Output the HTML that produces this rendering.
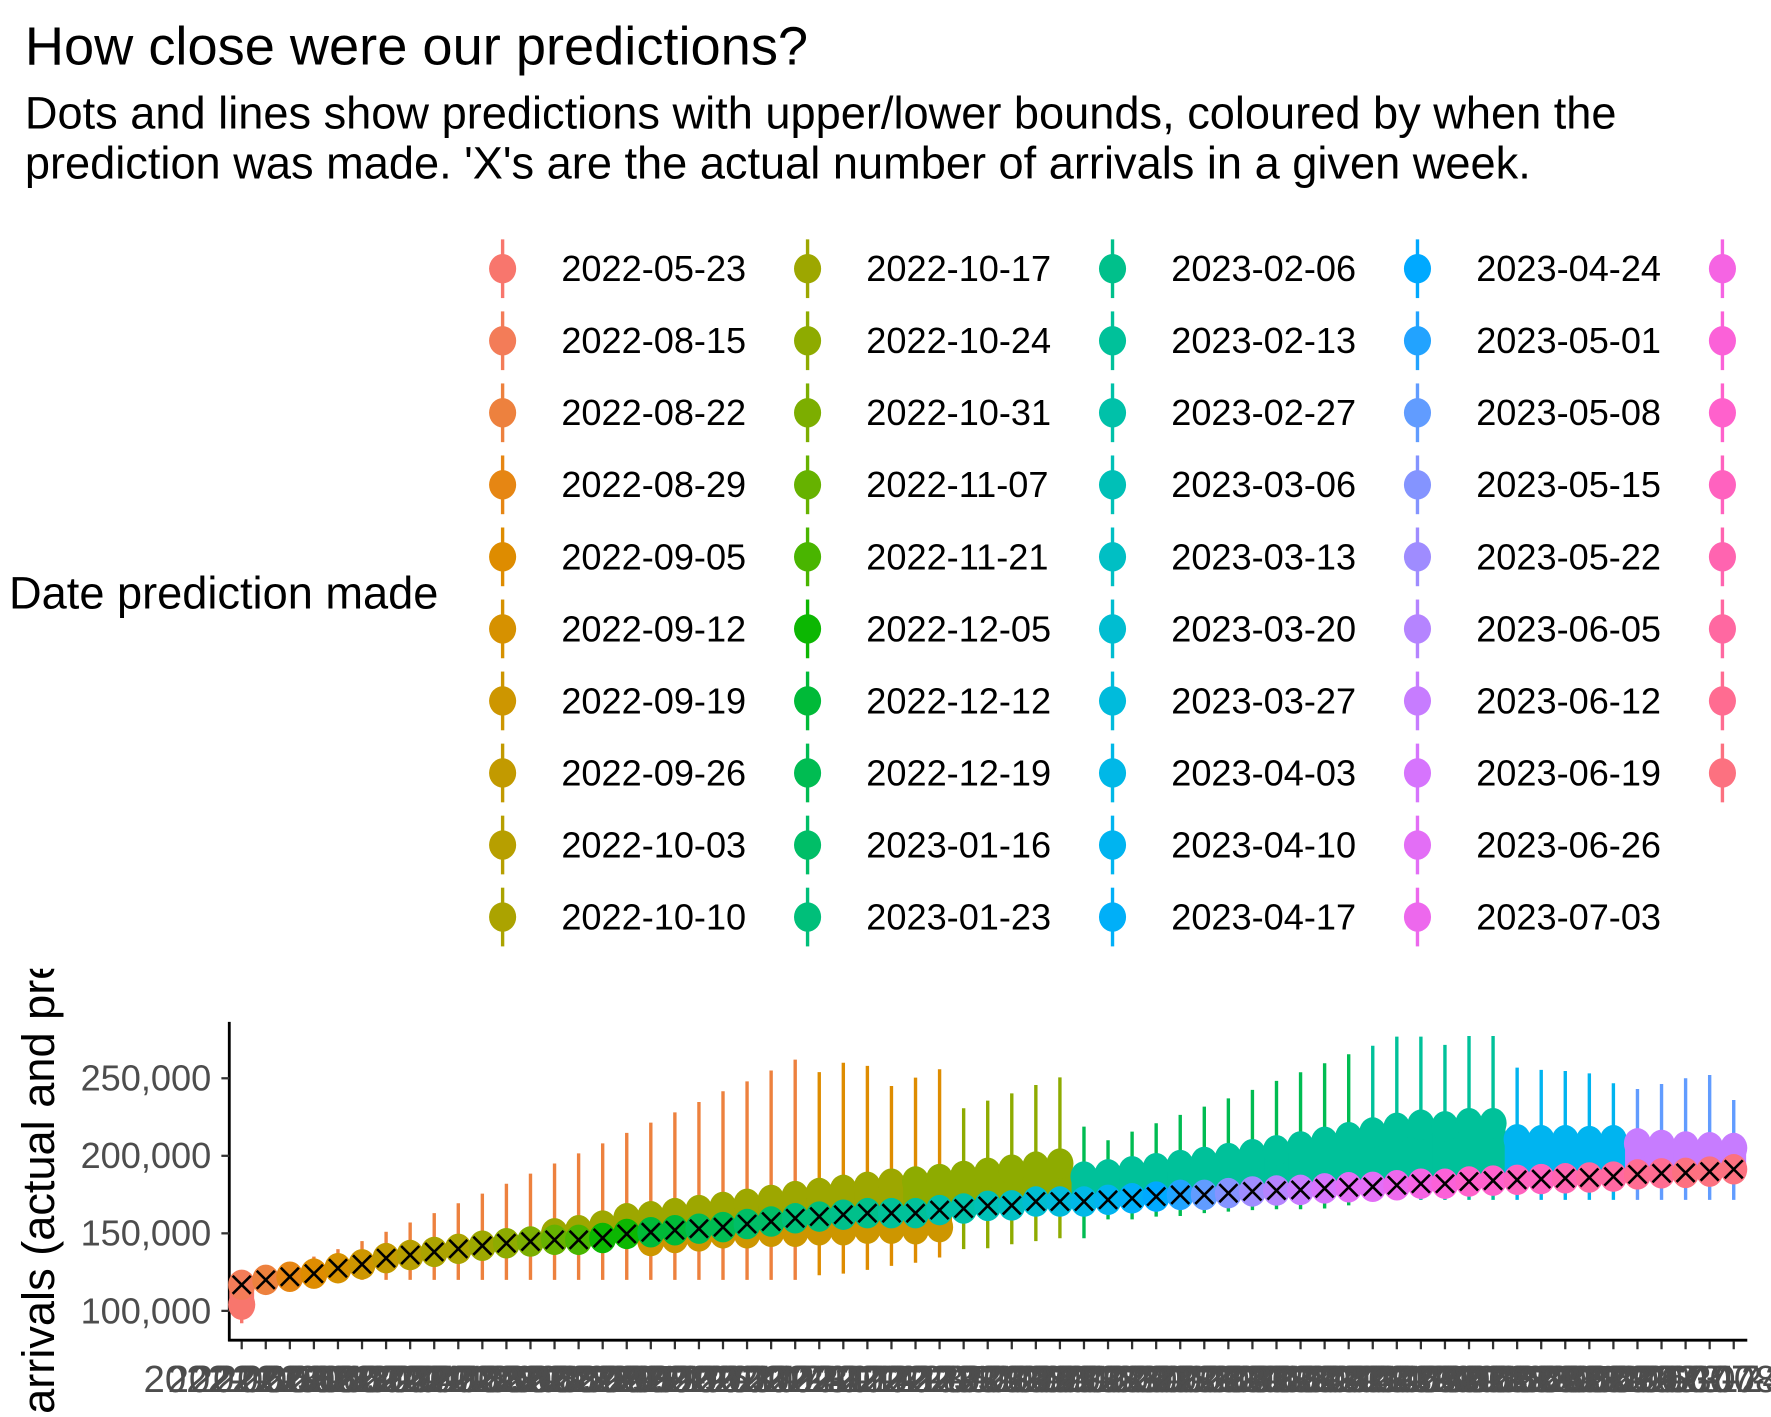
<!DOCTYPE html>
<html><head><meta charset="utf-8">
<style>
html,body{margin:0;padding:0;background:#fff;overflow:hidden;}
svg{display:block;}
text{font-family:"Liberation Sans",Arial,sans-serif;}
</style></head>
<body>
<svg id="chart" xmlns="http://www.w3.org/2000/svg" width="1771" height="1417" viewBox="0 0 1568 1255" preserveAspectRatio="none">
  <defs>
    <clipPath id="ytclip"><rect x="0" y="858" width="120" height="397"/></clipPath>
    <clipPath id="plotclip"><rect x="0" y="905" width="1568" height="350"/></clipPath>
  </defs>
  <rect x="0" y="0" width="1568" height="1255" fill="#fff"/>
  <text x="22" y="57" font-size="48" fill="#000">How close were our predictions?</text>
  <text x="22" y="114" font-size="40" fill="#000">Dots and lines show predictions with upper/lower bounds, coloured by when the</text>
  <text x="22" y="158" font-size="40" fill="#000">prediction was made. 'X's are the actual number of arrivals in a given week.</text>
  <text x="8" y="539" font-size="40" fill="#000">Date prediction made</text>
  <g id="legend"></g>
  <g id="yaxis"></g>
  <g id="xaxis"></g>
  <g id="marks" clip-path="url(#plotclip)"></g>
  <g clip-path="url(#ytclip)"><text transform="translate(48,1450) rotate(-90)" font-size="40" fill="#000">Number of arrivals (actual and predicted)</text></g>
</svg>
<script>
// ---- data (thousands) ----
const predDates = ["2022-05-23","2022-08-15","2022-08-22","2022-08-29","2022-09-05","2022-09-12","2022-09-19","2022-09-26","2022-10-03","2022-10-10",
"2022-10-17","2022-10-24","2022-10-31","2022-11-07","2022-11-21","2022-12-05","2022-12-12","2022-12-19","2023-01-16","2023-01-23",
"2023-02-06","2023-02-13","2023-02-27","2023-03-06","2023-03-13","2023-03-20","2023-03-27","2023-04-03","2023-04-10","2023-04-17",
"2023-04-24","2023-05-01","2023-05-08","2023-05-15","2023-05-22","2023-06-05","2023-06-12","2023-06-19","2023-06-26","2023-07-03",
"2023-07-10","2023-07-17","2023-07-24","2023-07-31","2023-08-07","2023-08-14","2023-08-21","2023-08-28"];
const actual = [116.8,120,122,124,127.5,130,134,136,138,140,142,143.6,144.7,145.8,145.8,147,149.6,150.7,152,153,154,156,157.6,159.7,160.8,162,163,163,
163,165,166,167.7,168,170.5,170.5,170.5,171.6,172.6,173.7,174.8,174.8,175.9,177,177.6,178,179,179.7,180,181,182,182,183.4,184,184.5,185,185.5,186,186.6,188,188.7,189,189.8,191.3];
const hiBound = [120,124,130,135,139.8,145,151,157,163,169.4,175.6,182,188.5,195,201.6,208,214.8,221.4,228,234.7,241.6,248,255,262,254,260,258,245,
250.4,255.8,230.7,235.6,240.3,245.7,250.6,218.8,210,215.6,221,226.4,231.7,237,242.5,248.3,253.9,259.7,265.5,271,276.9,276.9,271.5,277.3,277.3,256.9,255.4,254.7,253.2,246.8,243.1,246.3,250,252.1,236];
const loBound = [92,115,118,120,120,120,120,120,120,120,120,120,120,120,120,120,120,120,120,120,120,120,120,120,123,124,126.4,129,
131,134.4,139.8,140.4,143,145,146.8,146.8,159,159,160.8,161.2,163,164,165,165.5,165.5,166,168,171.6,171.6,171.6,171.6,171.6,171.6,171.6,171.6,171.6,171.6,171.6,171.6,171.6,171.6,171.6,171.6];
const upperPred = [null,null,null,null,null,null,null,null,null,null,null,null,null,150,152,155,159.7,161,163,165,167,169,171.5,174,176,178,180,182,
183.4,185,187,189,191,193,195,186.6,188,190,192,194,196,198.5,201,203.5,206,209,212,215,218,220,219,221,221,210.6,210,210,209.5,210,208,207,206,205.5,205];
const lowerPred = [104,null,null,null,null,null,null,null,null,null,null,null,null,null,null,null,null,145,147,148,150,150,151,151,152,152,153,153,
152.6,154,null,null,null,null,null,null,null,null,null,null,null,null,null,null,null,null,null,null,null,null,null,null,null,null,null,null,null,null,null,null,null,null,null];
const colActual = [1,2,3,4,5,6,7,8,9,9,10,11,12,13,14,15,15,16,16,17,17,18,18,19,19,20,20,21,21,22,22,23,24,25,26,27,28,29,30,31,32,33,34,35,36,37,38,38,39,40,41,42,42,43,43,44,45,45,46,46,47,47,47];
const colBar = [0,1,2,2,2,2,2,2,2,2,2,2,2,2,2,2,2,2,2,2,2,2,2,2,4,4,4,4,4,4,11,11,11,11,11,17,17,17,17,17,17,17,17,17,17,17,17,21,21,21,21,21,21,28,28,28,28,28,32,32,32,32,32];
const colUpper = [10,10,10,10,10,10,10,10,10,10,10,10,10,10,10,10,10,10,10,10,10,10,10,10,10,10,10,10,11,11,11,11,11,11,11,21,21,21,21,21,21,21,21,21,21,21,21,21,21,21,21,21,21,28,28,28,28,28,36,36,36,36,36];
const colLower = [0,6,6,6,6,6,6,6,6,6,6,6,6,6,6,6,6,6,6,6,6,6,6,6,6,6,6,6,6,6,6,6,6,6,6,6,6,6,6,6,6,6,6,6,6,6,6,6,6,6,6,6,6,6,6,6,6,6,6,6,6,6,6];
const yTicks = [100,150,200,250];
const yTickLabels = ["100,000","150,000","200,000","250,000"];

// ---- palette (ggplot hue) ----
function hcl(h,c,l){
  const hr=h*Math.PI/180,u=c*Math.cos(hr),v=c*Math.sin(hr);
  const Xn=95.047,Yn=100,Zn=108.883;
  const Y=Yn*Math.pow((l+16)/116,3);
  const d=Xn+15*Yn+3*Zn,un=4*Xn/d,vn=9*Yn/d;
  const up=u/(13*l)+un,vp=v/(13*l)+vn;
  const X=9*Y*up/(4*vp),Z=-X/3-5*Y+3*Y/vp;
  const x=X/100,y=Y/100,z=Z/100;
  let r=3.2404542*x-1.5371385*y-0.4985314*z,g=-0.9692660*x+1.8760108*y+0.0415560*z,b=0.0556434*x-0.2040259*y+1.0572252*z;
  const gm=t=>{t=t<=0.0031308?12.92*t:1.055*Math.pow(t,1/2.4)-0.055;return Math.round(Math.max(0,Math.min(1,t))*255);};
  return `rgb(${gm(r)},${gm(g)},${gm(b)})`;
}
const N=predDates.length;
const pal=[];
for(let i=0;i<N;i++)pal.push(hcl(15+i*360/N,100,65));

const NS="http://www.w3.org/2000/svg";
function mk(tag,attrs,parent){const e=document.createElementNS(NS,tag);for(const k in attrs)e.setAttribute(k,attrs[k]);parent.appendChild(e);return e;}

// ---- scales ----
const nW=actual.length;
const xS=i=>214+i*(1535-214)/(nW-1);
const yS=v=>955+(250-v)*206/150;

// ---- legend ----
const lg=document.getElementById('legend');
for(let i=0;i<N;i++){
  const col=Math.floor(i/10),row=i%10;
  const kx=445+col*270,ky=238+row*63.8;
  const g=mk('g',{},lg);
  
  
  mk('line',{x1:kx,x2:kx,y1:ky-26,y2:ky+26,stroke:pal[i],'stroke-width':3},g);
  mk('ellipse',{cx:kx,cy:ky,rx:12,ry:13,fill:pal[i]},g);
  const t=mk('text',{x:kx+52,y:ky+11,'font-size':32,fill:'#000'},g);
  t.textContent=predDates[i];
}

// ---- y axis ----
const ya=document.getElementById('yaxis');
mk('line',{x1:203,x2:203,y1:905,y2:1188,stroke:'#000','stroke-width':2.5},ya);
yTicks.forEach((v,k)=>{
  mk('line',{x1:196,x2:203,y1:yS(v),y2:yS(v),stroke:'#333','stroke-width':2},ya);
  const t=mk('text',{x:187,y:yS(v)+11,'font-size':32,fill:'#4d4d4d','text-anchor':'end'},ya);
  
  
  t.textContent=yTickLabels[k];
});

// ---- x axis ----
const xa=document.getElementById('xaxis');
mk('line',{x1:202,x2:1547,y1:1187,y2:1187,stroke:'#000','stroke-width':2.5},xa);
const start=new Date(Date.UTC(2022,4,30));
const xLabels=[];for(let i=0;i<nW;i++){const d=new Date(start.getTime()+i*7*86400000);xLabels.push(d.toISOString().slice(0,10));}
for(let i=0;i<nW;i++){
  mk('line',{x1:xS(i),x2:xS(i),y1:1188,y2:1195,stroke:'#333','stroke-width':2},xa);
  const t=mk('text',{x:xS(i),y:1233,'font-size':34,fill:'#4d4d4d','text-anchor':'middle'},xa);
  
  
  t.textContent=xLabels[i];
}

// ---- marks ----
const mg=document.getElementById('marks');
const RX=12,RY=13.5,BW=22;
for(let i=0;i<nW;i++){
  const b=mk('line',{x1:xS(i),x2:xS(i),y1:yS(hiBound[i]),y2:yS(loBound[i]),stroke:pal[colBar[i]],'stroke-width':3},mg);
  
  
}
for(let i=0;i<nW;i++){
  if(lowerPred[i]!==null){
    mk('line',{x1:xS(i),x2:xS(i),y1:yS(actual[i]),y2:yS(lowerPred[i]),stroke:pal[colLower[i]],'stroke-width':BW,'stroke-linecap':'round'},mg);
    const c=mk('ellipse',{cx:xS(i),cy:yS(lowerPred[i]),rx:RX,ry:RY,fill:pal[colLower[i]]},mg);
    
    
  }
}
for(let i=0;i<nW;i++){
  if(upperPred[i]!==null){
    mk('line',{x1:xS(i),x2:xS(i),y1:yS(actual[i]),y2:yS(upperPred[i]),stroke:pal[colUpper[i]],'stroke-width':BW,'stroke-linecap':'round'},mg);
    const c=mk('ellipse',{cx:xS(i),cy:yS(upperPred[i]),rx:RX,ry:RY,fill:pal[colUpper[i]]},mg);
    
    
  }
}
for(let i=0;i<nW;i++){
  const c=mk('ellipse',{cx:xS(i),cy:yS(actual[i]),rx:RX,ry:RY,fill:pal[colActual[i]]},mg);
  
  
}
for(let i=0;i<nW;i++){
  const x=xS(i),y=yS(actual[i]),s=8;
  const g=mk('g',{stroke:'#000','stroke-width':2.3},mg);
  
  
  mk('line',{x1:x-s,y1:y-s,x2:x+s,y2:y+s},g);
  mk('line',{x1:x-s,y1:y+s,x2:x+s,y2:y-s},g);
}
</script>
</body></html>
